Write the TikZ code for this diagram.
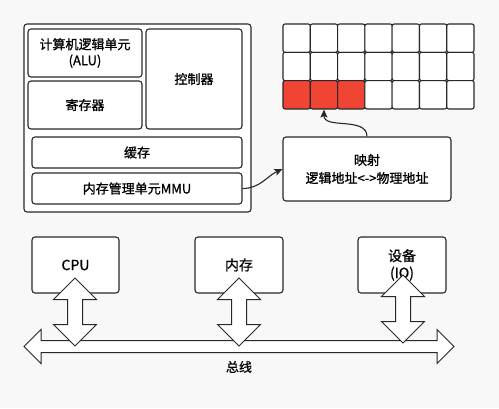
\documentclass[tikz,border=0pt]{standalone}
\usepackage{fontspec}
\setmainfont{Noto Sans CJK SC}[FakeBold=1]
\usetikzlibrary{arrows.meta}
\usetikzlibrary{shapes.arrows}
\usetikzlibrary{positioning}

\definecolor{bggray}{RGB}{248,248,248}
\definecolor{linegray}{RGB}{40,40,40}
\definecolor{cellred}{RGB}{240,68,52}

\begin{document}
\begin{tikzpicture}[
    x=1pt, y=-1pt,
    box/.style={draw=linegray, line width=1.1pt, fill=white, rounded corners=3pt,
      inner sep=0pt, align=center, font=\fontsize{13}{16}\selectfont},
    cell/.style={draw=linegray, line width=1.1pt, rounded corners=2pt,
      minimum width=27.3pt, minimum height=28.3pt, inner sep=0pt},
    bus/.style={double arrow, draw=linegray, line width=1pt, fill=white,
      inner xsep=0pt, inner ysep=5.5pt, minimum width=0pt,
      double arrow head extend=11pt},
    link/.style={double arrow, draw=linegray, line width=1pt, fill=white,
      inner xsep=0pt, inner ysep=7pt, minimum width=0pt,
      double arrow head extend=14pt, minimum height=68pt, rotate=90},
    arrow/.style={line width=1.1pt, draw=linegray,
      >={Stealth[length=8pt, width=7pt, inset=1.5pt]}},
    post/.style={arrow, ->}
  ]
  \fill[bggray] (0,0) rectangle (499,408);

  % CPU inside
  \node[box, minimum width=227pt, minimum height=188pt] (cpu) at (137.5,118) {};
  \node[box, minimum width=114pt, minimum height=48pt] (alu) at (85,53) {计算机逻辑单元\\(ALU)};
  \node[box, minimum width=114pt, minimum height=48pt] (reg) at (85,105) {寄存器};
  \node[box, minimum width=96pt, minimum height=100pt] (ctrl) at (194,79) {控制器};
  \node[box, minimum width=210pt, minimum height=31pt] (cache) at (137,152.5) {缓存};
  \node[box, minimum width=210pt, minimum height=31pt] (mmu) at (137,188.5) {内存管理单元MMU};

  % memory pages
  \foreach \r in {0,1,2}
    \foreach \c in {0,...,6} {
      \ifnum\r=2 \ifnum\c<3 \def\fc{cellred}\else\def\fc{white}\fi\else\def\fc{white}\fi
      \node[cell, fill=\fc] (g\r\c) at ({296.65+27.29*\c},{38.15+28.33*\r}) {};
    }

  \node[box, minimum width=168pt, minimum height=64pt, font=\fontsize{13}{18}\selectfont]
    (map) at (367,169) {映射\\逻辑地址<->物理地址};
  \draw[post] (mmu.east) to[out=0, in=205] (map.west);
  \draw[post] (map.north) to[out=90, in=-90] (g21.south);

  % bus
  \node[box, minimum width=87pt, minimum height=56pt, font=\fontsize{14}{17}\selectfont] (cpubox) at (75.5,265) {CPU};
  \node[box, minimum width=88pt, minimum height=56pt, font=\fontsize{14}{17}\selectfont] (mem) at (239,265) {内存};
  \node[box, minimum width=88pt, minimum height=56pt, font=\fontsize{14}{17}\selectfont] (dev) at (402,265) {设备\\(IO)};

  \node[bus, minimum height=430pt] (busline) at (239,346.5) {};
  \node[font=\fontsize{13}{16}\selectfont] (buslabel) at (239,367) {总线};

  \node[link] (cpulink) at (75,312) {};
  \node[link] (memlink) at (239,312) {};
  \node[link] (devlink) at (403,309) {};
\end{tikzpicture}
\end{document}
